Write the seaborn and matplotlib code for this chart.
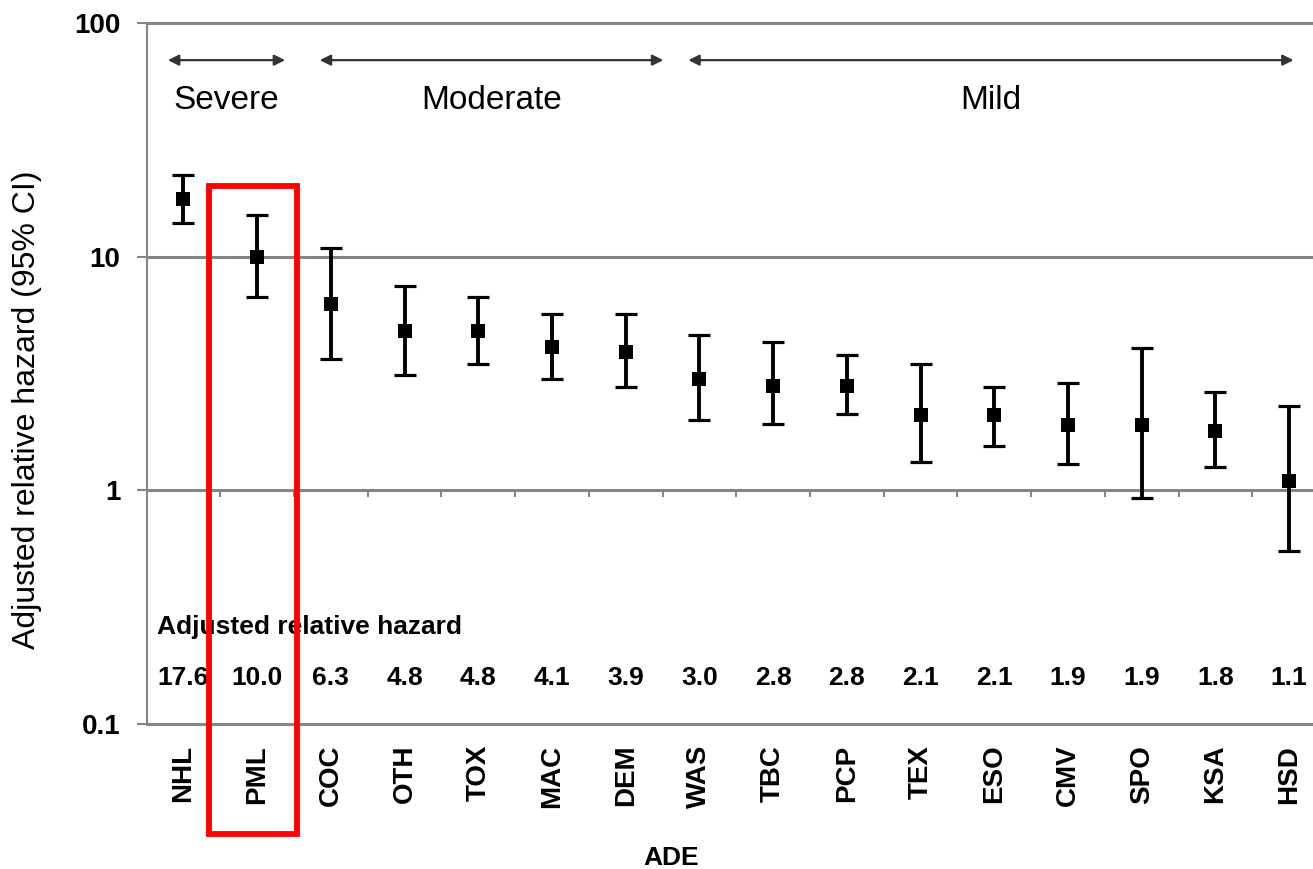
import numpy as np
import pandas as pd
import matplotlib
matplotlib.use("Agg")
import matplotlib.pyplot as plt
import seaborn as sns
from matplotlib.patches import Rectangle
from matplotlib.ticker import NullLocator

# ---------------- data ----------------
categories = ["NHL", "PML", "COC", "OTH", "TOX", "MAC", "DEM", "WAS",
              "TBC", "PCP", "TEX", "ESO", "CMV", "SPO", "KSA", "HSD"]
hazard = [17.6, 10.0, 6.3, 4.8, 4.8, 4.1, 3.9, 3.0,
          2.8, 2.8, 2.1, 2.1, 1.9, 1.9, 1.8, 1.1]
ci_lower = [13.9, 6.75, 3.64, 3.12, 3.47, 2.99, 2.78, 1.99,
            1.93, 2.13, 1.32, 1.54, 1.29, 0.93, 1.26, 0.55]
ci_upper = [22.3, 15.0, 10.9, 7.52, 6.75, 5.69, 5.69, 4.63,
            4.31, 3.81, 3.47, 2.78, 2.89, 4.06, 2.63, 2.29]
severity_groups = ["Severe", "Moderate", "Mild"]
group_first = ["NHL", "COC", "WAS"]
group_last = ["PML", "DEM", "HSD"]
highlight = "PML"
y_ticks = [0.1, 1, 10, 100]
y_tick_labels = ["0.1", "1", "10", "100"]
value_title = "Adjusted relative hazard"
x_label = "ADE"
y_label = "Adjusted relative hazard (95% CI)"

# ---------------- style ----------------
sns.set_style("white")
plt.rcParams["font.family"] = ["Liberation Sans", "DejaVu Sans"]
plt.rcParams["text.color"] = "black"
plt.rcParams["xtick.color"] = "black"
plt.rcParams["ytick.color"] = "black"
plt.rcParams["axes.labelcolor"] = "black"
GRAY = "#858585"

fig = plt.figure(figsize=(13.13, 8.69), dpi=100)
ax = fig.add_axes([0.1116, 0.1669, 0.8983, 0.8067])

df = pd.DataFrame({"ADE": categories, "hazard": hazard,
                   "lo": ci_lower, "hi": ci_upper})
df["pos"] = np.arange(len(df))

ax.set_yscale("log")
ax.errorbar(df["pos"], df["hazard"],
            yerr=[df["hazard"] - df["lo"], df["hi"] - df["hazard"]],
            fmt="none", ecolor="black", elinewidth=2.8, capsize=8,
            capthick=2.3, zorder=3)
sns.scatterplot(data=df, x="pos", y="hazard", marker="s", s=100,
                color="black", linewidth=0, ax=ax, zorder=4, legend=False)

ax.set_xlim(-0.5, len(df) - 0.5)
ax.set_ylim(0.1, 100)
ax.yaxis.set_minor_locator(NullLocator())
ax.set_yticks(y_ticks)
ax.set_yticklabels(y_tick_labels, fontsize=20, fontweight="bold")
ax.set_xticks(df["pos"])
ax.set_xticklabels(categories, rotation=90, fontsize=20, fontweight="bold")
ax.tick_params(axis="x", length=0, pad=15)
ax.tick_params(axis="y", length=7, width=1.5, color=GRAY, pad=12, left=True)

for s in ["left", "bottom", "top"]:
    ax.spines[s].set_visible(True)
    ax.spines[s].set_color(GRAY)
ax.spines["left"].set_linewidth(1.5)
ax.spines["bottom"].set_linewidth(2.2)
ax.spines["top"].set_linewidth(2.2)
ax.spines["right"].set_visible(False)

# reference line at 10
ax.axhline(10, color=GRAY, lw=2.2, zorder=1)

# category axis crossing at 1 (with tick marks between categories)
sec = ax.secondary_xaxis(1 / 3)
sec.set_xticks(np.arange(0.5, len(df) - 1, 1))
sec.tick_params(axis="x", length=5, width=1.5, color=GRAY, direction="out",
                labelbottom=False, labeltop=False)
for s in sec.spines.values():
    s.set_color(GRAY)
    s.set_linewidth(2.2)

# labels
ax.set_ylabel(y_label, fontsize=23)
ax.yaxis.label.set_va("center")
ax.yaxis.set_label_coords(-0.101, 0.448)
ax.set_xlabel(x_label, fontsize=19, fontweight="bold")
ax.xaxis.label.set_va("center")
ax.xaxis.set_label_coords(0.4446, -0.191)

# value row
ax.text(-0.36, 0.259, value_title, ha="left", va="center",
        fontsize=19, fontweight="bold")
for i, v in enumerate(hazard):
    ax.text(i, 0.158, f"{v:.1f}", ha="center", va="center",
            fontsize=19, fontweight="bold")

# severity arrows
idx = {c: i for i, c in enumerate(categories)}
arrow_pad = [(-0.21, 0.38), (-0.15, 0.51), (-0.15, 0.06)]
for name, a, b, (pl, pr) in zip(severity_groups, group_first, group_last, arrow_pad):
    x0 = idx[a] + pl
    x1 = idx[b] + pr
    ax.annotate("", xy=(x1, 69.3), xytext=(x0, 69.3),
                arrowprops=dict(arrowstyle="<|-|>", color="#333333", lw=1.6,
                                mutation_scale=16, shrinkA=0, shrinkB=0))
    ax.text((x0 + x1) / 2, 46.7, name, ha="center", va="center", fontsize=24)

# highlight box around PML
h = idx[highlight]
ax.add_patch(Rectangle((h - 0.655, 0.0338), 1.195, 20.15 - 0.0338,
                       fill=False, edgecolor="#ff0000", lw=4.2,
                       clip_on=False, zorder=6))

fig.savefig("out.png", dpi=100)
